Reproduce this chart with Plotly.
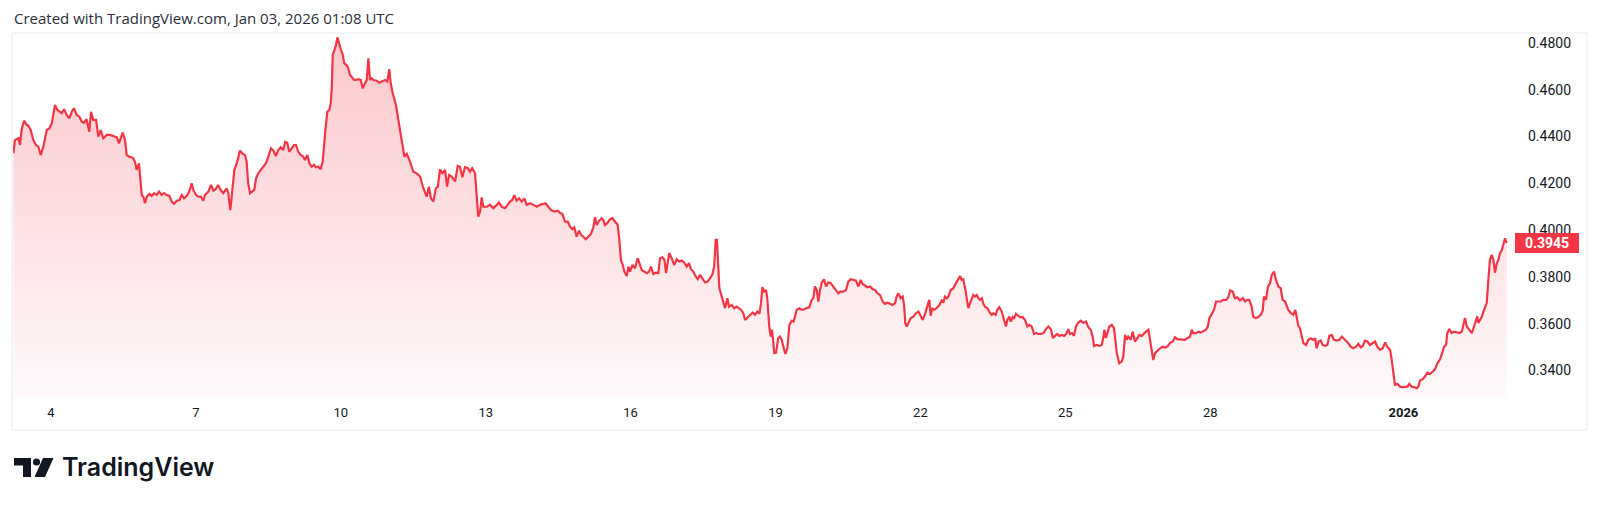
import plotly.graph_objects as go
import pandas as pd

# ---------------- data ----------------
HEADER = "Created with TradingView.com, Jan 03, 2026 01:08 UTC"
BASE_TIME = "2025-12-03 00:00"          # hours below are counted from here (UTC)

hours = [
    5.3, 6.1, 7.8, 8.6, 9.4, 10.6, 11.9, 12.7, 13.9, 15.2,
    16.6, 17.7, 18.9, 20.2, 21.9, 23.2, 24.4, 25.1, 26.0, 27.1,
    28.5, 29.3, 30.5, 31.8, 33.1, 34.3, 35.4, 36.8, 38.1, 39.3,
    40.4, 41.7, 43.0, 43.9, 45.0, 46.4, 47.5, 48.7, 50.0, 51.7,
    53.3, 55.0, 56.7, 57.8, 58.8, 59.6, 60.8, 61.6, 62.9, 64.6,
    65.7, 66.6, 67.7, 68.6, 69.1, 69.9, 70.7, 71.6, 72.9, 74.0,
    75.2, 76.5, 77.7, 79.0, 80.2, 81.5, 82.8, 84.0, 85.1, 86.5,
    87.8, 89.0, 90.1, 91.4, 92.7, 93.9, 94.7, 96.1, 97.2, 98.4,
    99.7, 100.5, 102.2, 103.5, 104.7, 105.8, 107.0, 108.3, 109.6, 111.3,
    112.1, 113.1, 114.3, 115.1, 116.3, 117.9, 119.3, 120.4, 121.2, 122.0,
    122.9, 124.2, 125.0, 125.9, 127.0, 128.2, 129.5, 130.8, 132.0, 133.3,
    134.5, 135.7, 137.0, 138.1, 139.4, 140.4, 141.4, 142.4, 143.6, 144.8,
    145.7, 146.9, 148.1, 149.1, 150.2, 151.4, 152.4, 153.5, 154.7, 155.7,
    156.8, 158.0, 159.0, 159.7, 160.5, 161.3, 162.3, 163.0, 163.5, 164.0,
    164.8, 165.6, 166.3, 167.3, 168.1, 169.0, 169.7, 170.9, 171.7, 172.6,
    173.4, 174.6, 175.6, 176.7, 177.9, 178.9, 180.0, 180.9, 181.7, 182.5,
    183.4, 184.2, 185.8, 187.1, 190.0, 191.1, 192.1, 192.8, 193.8, 195.4,
    196.6, 198.3, 199.6, 200.8, 202.4, 204.0, 205.7, 207.4, 209.0, 210.7,
    211.8, 212.8, 214.0, 215.2, 216.2, 217.3, 218.4, 219.8, 220.8, 221.8,
    223.1, 224.8, 226.1, 227.2, 228.4, 229.7, 231.1, 232.2, 233.3, 234.7,
    235.5, 236.3, 237.2, 238.0, 238.8, 240.5, 242.1, 243.8, 245.5, 246.6,
    248.0, 249.6, 250.9, 252.1, 253.2, 254.2, 255.4, 256.6, 257.9, 259.2,
    260.4, 262.0, 263.7, 265.4, 267.0, 268.6, 269.8, 271.1, 272.5, 274.1,
    275.8, 276.9, 278.1, 279.4, 280.8, 281.9, 283.0, 284.0, 285.2, 286.4,
    287.4, 288.5, 289.7, 291.0, 292.3, 293.5, 294.3, 295.2, 296.3, 297.6,
    298.4, 299.3, 300.6, 301.8, 302.9, 304.3, 305.6, 306.4, 307.2, 308.1,
    308.9, 310.1, 310.9, 311.7, 312.9, 314.2, 315.5, 316.7, 317.5, 318.8,
    320.0, 321.2, 322.1, 323.3, 324.5, 325.8, 326.6, 327.8, 328.8, 329.6,
    330.4, 331.2, 332.4, 333.7, 334.9, 336.1, 337.4, 338.7, 339.9, 341.0,
    342.0, 343.2, 344.4, 345.4, 346.5, 347.6, 349.0, 350.3, 351.5, 352.6,
    353.5, 354.3, 354.9, 355.6, 356.1, 357.3, 358.1, 358.9, 360.1, 360.9,
    362.2, 363.5, 364.7, 365.9, 366.9, 368.0, 368.9, 370.5, 371.7, 372.7,
    373.8, 375.0, 376.0, 376.8, 377.5, 378.3, 379.3, 379.9, 380.9, 381.6,
    382.3, 382.9, 383.4, 384.3, 385.3, 386.2, 387.1, 387.9, 388.9, 389.9,
    390.9, 392.1, 392.9, 393.7, 394.5, 395.8, 397.0, 398.2, 399.5, 400.8,
    402.0, 402.8, 403.6, 404.5, 405.3, 406.1, 407.0, 408.1, 409.1, 410.2,
    411.4, 412.7, 414.1, 415.2, 416.1, 417.7, 419.0, 420.2, 421.4, 422.7,
    424.0, 425.2, 426.3, 427.3, 428.5, 429.6, 431.0, 432.3, 433.5, 434.6,
    435.9, 437.3, 438.4, 439.6, 440.9, 442.2, 443.4, 444.2, 445.0, 446.2,
    447.2, 447.9, 448.5, 449.2, 450.0, 451.2, 452.5, 453.8, 455.0, 456.2,
    457.2, 458.3, 459.4, 460.4, 461.1, 461.9, 462.8, 464.1, 465.4, 466.6,
    467.4, 468.2, 469.1, 469.9, 471.1, 472.4, 473.2, 474.0, 474.8, 475.7,
    476.5, 477.3, 478.2, 479.0, 479.8, 480.7, 481.5, 482.3, 483.1, 484.0,
    484.8, 485.6, 486.5, 487.3, 488.1, 489.3, 490.2, 491.4, 492.2, 493.4,
    494.2, 495.2, 496.4, 497.6, 498.5, 499.2, 500.2, 500.9, 501.9, 502.5,
    503.5, 504.7, 505.5, 506.8, 508.0, 509.1, 510.1, 511.3, 512.5, 513.5,
    514.6, 515.8, 517.1, 518.4, 519.6, 520.8, 521.8, 522.9, 524.0, 525.0,
    526.2, 527.4, 528.4, 529.5, 530.3, 531.3, 532.3, 533.3, 534.5, 535.7,
    537.0, 538.3, 539.4, 540.6, 541.6, 542.3, 543.6, 544.9, 546.1, 546.9,
    547.4, 548.2, 549.1, 549.9, 551.1, 552.2, 553.6, 554.8, 556.0, 556.8,
    557.7, 558.5, 559.3, 560.5, 561.5, 562.6, 563.8, 564.8, 566.0, 566.8,
    568.1, 569.3, 570.1, 570.9, 571.7, 572.6, 573.7, 575.1, 576.4, 577.6,
    578.7, 580.0, 581.4, 582.5, 583.7, 585.0, 586.3, 587.5, 588.6, 590.0,
    590.8, 591.6, 593.0, 594.1, 595.3, 596.6, 597.9, 598.8, 599.6, 600.8,
    601.9, 602.9, 604.0, 605.2, 606.5, 607.9, 609.0, 609.9, 611.2, 612.3,
    613.5, 614.8, 616.2, 617.3, 618.4, 619.4, 620.6, 621.4, 622.6, 623.9,
    625.1, 626.1, 626.7, 627.7, 628.7, 629.7, 630.6, 631.7, 632.7, 633.9,
    635.0, 636.0, 637.2, 638.0, 638.8, 640.0, 641.3, 642.3, 643.0, 643.8,
    644.6, 645.5, 646.3, 647.6, 648.8, 650.0, 651.2, 652.1, 652.9, 653.9,
    654.9, 655.9, 657.1, 658.2, 659.2, 660.4, 661.5, 662.9, 664.2, 665.4,
    666.2, 667.5, 668.6, 669.8, 671.1, 672.5, 673.6, 674.8, 675.8, 676.9,
    678.1, 679.4, 680.8, 681.9, 683.0, 684.4, 685.7, 686.9, 688.0, 689.4,
    690.2, 691.0, 691.8, 693.0, 694.3, 695.7, 696.8, 698.0, 698.9, 700.1,
    701.3, 702.6, 703.4, 704.3, 705.6, 706.7, 707.9, 709.2, 710.6, 711.7,
    712.9, 714.2, 715.5, 716.2, 717.2, 717.8, 718.8, 720.0, 721.2, 722.5,
    723.8, 725.0, 725.8, 726.6, 727.5, 728.6, 730.0, 731.1, 732.1, 732.7,
    733.2, 734.9, 736.1, 737.4, 738.2, 739.0, 739.9, 740.7, 741.5, 742.4,
    743.2, 744.0, 744.9, 745.7, 746.5, 747.3,
]

prices = [
    0.4329, 0.4385, 0.4393, 0.4364, 0.4428, 0.4468, 0.4450, 0.4447, 0.4428, 0.4385,
    0.4364, 0.4357, 0.4321, 0.4357, 0.4428, 0.4435, 0.4457, 0.4485, 0.4535, 0.4514,
    0.4506, 0.4500, 0.4517, 0.4492, 0.4478, 0.4506, 0.4521, 0.4492, 0.4485, 0.4464,
    0.4459, 0.4474, 0.4421, 0.4506, 0.4471, 0.4471, 0.4400, 0.4428, 0.4393, 0.4407,
    0.4407, 0.4403, 0.4397, 0.4371, 0.4400, 0.4417, 0.4385, 0.4321, 0.4314, 0.4310,
    0.4293, 0.4257, 0.4286, 0.4200, 0.4150, 0.4143, 0.4115, 0.4143, 0.4155, 0.4146,
    0.4158, 0.4150, 0.4165, 0.4150, 0.4158, 0.4150, 0.4146, 0.4122, 0.4112, 0.4126,
    0.4129, 0.4150, 0.4136, 0.4146, 0.4165, 0.4200, 0.4172, 0.4150, 0.4143, 0.4143,
    0.4126, 0.4150, 0.4165, 0.4193, 0.4169, 0.4175, 0.4193, 0.4172, 0.4158, 0.4179,
    0.4158, 0.4086, 0.4200, 0.4257, 0.4286, 0.4340, 0.4326, 0.4321, 0.4293, 0.4200,
    0.4158, 0.4165, 0.4172, 0.4222, 0.4243, 0.4257, 0.4271, 0.4286, 0.4314, 0.4350,
    0.4340, 0.4317, 0.4343, 0.4354, 0.4343, 0.4378, 0.4374, 0.4335, 0.4350, 0.4364,
    0.4364, 0.4335, 0.4321, 0.4317, 0.4300, 0.4321, 0.4286, 0.4271, 0.4279, 0.4269,
    0.4271, 0.4260, 0.4293, 0.4371, 0.4442, 0.4506, 0.4514, 0.4542, 0.4606, 0.4749,
    0.4770, 0.4791, 0.4824, 0.4791, 0.4770, 0.4749, 0.4713, 0.4706, 0.4692, 0.4663,
    0.4656, 0.4642, 0.4642, 0.4645, 0.4642, 0.4606, 0.4628, 0.4642, 0.4735, 0.4642,
    0.4649, 0.4642, 0.4639, 0.4630, 0.4642, 0.4635, 0.4688, 0.4628, 0.4585, 0.4535,
    0.4471, 0.4378, 0.4314, 0.4326, 0.4293, 0.4250, 0.4243, 0.4229, 0.4179, 0.4143,
    0.4186, 0.4136, 0.4122, 0.4179, 0.4186, 0.4260, 0.4243, 0.4257, 0.4186, 0.4236,
    0.4229, 0.4208, 0.4274, 0.4271, 0.4226, 0.4269, 0.4265, 0.4250, 0.4265, 0.4243,
    0.4158, 0.4058, 0.4079, 0.4140, 0.4100, 0.4100, 0.4108, 0.4094, 0.4108, 0.4118,
    0.4100, 0.4094, 0.4108, 0.4122, 0.4129, 0.4150, 0.4126, 0.4136, 0.4122, 0.4136,
    0.4108, 0.4115, 0.4108, 0.4100, 0.4108, 0.4112, 0.4115, 0.4100, 0.4086, 0.4079,
    0.4083, 0.4074, 0.4069, 0.4036, 0.4036, 0.4015, 0.4004, 0.4012, 0.3972, 0.3998,
    0.3980, 0.3972, 0.3961, 0.3972, 0.3984, 0.4012, 0.4055, 0.4022, 0.4040, 0.4051,
    0.4044, 0.4022, 0.4032, 0.4047, 0.4051, 0.4036, 0.4022, 0.3958, 0.3873, 0.3851,
    0.3823, 0.3804, 0.3844, 0.3823, 0.3851, 0.3837, 0.3880, 0.3851, 0.3830, 0.3823,
    0.3816, 0.3823, 0.3844, 0.3813, 0.3818, 0.3816, 0.3880, 0.3884, 0.3873, 0.3816,
    0.3866, 0.3902, 0.3880, 0.3851, 0.3876, 0.3866, 0.3870, 0.3861, 0.3844, 0.3859,
    0.3833, 0.3823, 0.3801, 0.3790, 0.3809, 0.3794, 0.3776, 0.3780, 0.3794, 0.3809,
    0.3844, 0.3958, 0.3958, 0.3844, 0.3752, 0.3716, 0.3688, 0.3666, 0.3709, 0.3673,
    0.3680, 0.3666, 0.3673, 0.3666, 0.3659, 0.3645, 0.3616, 0.3630, 0.3638, 0.3648,
    0.3638, 0.3652, 0.3642, 0.3688, 0.3756, 0.3737, 0.3744, 0.3709, 0.3588, 0.3545,
    0.3574, 0.3517, 0.3474, 0.3476, 0.3538, 0.3545, 0.3531, 0.3502, 0.3471, 0.3495,
    0.3595, 0.3613, 0.3609, 0.3630, 0.3659, 0.3666, 0.3659, 0.3662, 0.3666, 0.3671,
    0.3702, 0.3709, 0.3759, 0.3744, 0.3694, 0.3744, 0.3776, 0.3790, 0.3759, 0.3776,
    0.3774, 0.3759, 0.3744, 0.3730, 0.3737, 0.3737, 0.3744, 0.3780, 0.3790, 0.3787,
    0.3784, 0.3759, 0.3787, 0.3770, 0.3762, 0.3756, 0.3759, 0.3747, 0.3744, 0.3730,
    0.3723, 0.3694, 0.3685, 0.3690, 0.3685, 0.3680, 0.3688, 0.3716, 0.3730, 0.3709,
    0.3716, 0.3680, 0.3602, 0.3588, 0.3602, 0.3624, 0.3630, 0.3645, 0.3652, 0.3628,
    0.3616, 0.3642, 0.3680, 0.3702, 0.3634, 0.3667, 0.3659, 0.3667, 0.3680, 0.3699,
    0.3690, 0.3716, 0.3709, 0.3716, 0.3744, 0.3752, 0.3766, 0.3780, 0.3794, 0.3804,
    0.3787, 0.3790, 0.3752, 0.3702, 0.3667, 0.3688, 0.3709, 0.3723, 0.3716, 0.3723,
    0.3709, 0.3702, 0.3709, 0.3685, 0.3673, 0.3666, 0.3652, 0.3638, 0.3644, 0.3638,
    0.3659, 0.3671, 0.3652, 0.3616, 0.3588, 0.3616, 0.3630, 0.3609, 0.3628, 0.3621,
    0.3642, 0.3633, 0.3628, 0.3628, 0.3616, 0.3588, 0.3595, 0.3588, 0.3556, 0.3560,
    0.3556, 0.3556, 0.3560, 0.3577, 0.3588, 0.3577, 0.3539, 0.3548, 0.3556, 0.3548,
    0.3552, 0.3548, 0.3556, 0.3577, 0.3556, 0.3560, 0.3548, 0.3588, 0.3605, 0.3613,
    0.3603, 0.3609, 0.3586, 0.3574, 0.3545, 0.3505, 0.3509, 0.3505, 0.3509, 0.3542,
    0.3574, 0.3539, 0.3561, 0.3588, 0.3595, 0.3581, 0.3474, 0.3431, 0.3438, 0.3459,
    0.3552, 0.3531, 0.3545, 0.3531, 0.3566, 0.3524, 0.3538, 0.3552, 0.3548, 0.3556,
    0.3566, 0.3574, 0.3524, 0.3474, 0.3445, 0.3474, 0.3485, 0.3495, 0.3502, 0.3498,
    0.3502, 0.3517, 0.3524, 0.3542, 0.3534, 0.3534, 0.3534, 0.3531, 0.3538, 0.3545,
    0.3574, 0.3560, 0.3560, 0.3566, 0.3562, 0.3569, 0.3574, 0.3588, 0.3624, 0.3642,
    0.3659, 0.3695, 0.3695, 0.3695, 0.3702, 0.3702, 0.3713, 0.3742, 0.3737, 0.3709,
    0.3713, 0.3699, 0.3709, 0.3695, 0.3702, 0.3702, 0.3673, 0.3630, 0.3624, 0.3628,
    0.3638, 0.3656, 0.3716, 0.3702, 0.3759, 0.3773, 0.3809, 0.3823, 0.3787, 0.3759,
    0.3752, 0.3702, 0.3695, 0.3680, 0.3659, 0.3646, 0.3638, 0.3659, 0.3630, 0.3591,
    0.3581, 0.3552, 0.3517, 0.3509, 0.3531, 0.3538, 0.3531, 0.3538, 0.3495, 0.3524,
    0.3528, 0.3509, 0.3505, 0.3509, 0.3548, 0.3552, 0.3531, 0.3528, 0.3531, 0.3545,
    0.3538, 0.3528, 0.3517, 0.3502, 0.3495, 0.3502, 0.3514, 0.3499, 0.3505, 0.3528,
    0.3524, 0.3509, 0.3517, 0.3524, 0.3502, 0.3488, 0.3495, 0.3520, 0.3502, 0.3488,
    0.3445, 0.3388, 0.3339, 0.3343, 0.3331, 0.3329, 0.3331, 0.3331, 0.3343, 0.3331,
    0.3329, 0.3324, 0.3331, 0.3357, 0.3363, 0.3374, 0.3391, 0.3385, 0.3395, 0.3406,
    0.3431, 0.3448, 0.3481, 0.3502, 0.3509, 0.3560, 0.3577, 0.3560, 0.3566, 0.3562,
    0.3560, 0.3566, 0.3595, 0.3624, 0.3588, 0.3577, 0.3560, 0.3588, 0.3616, 0.3631,
    0.3603, 0.3629, 0.3659, 0.3688, 0.3787, 0.3873, 0.3894, 0.3873, 0.3818, 0.3858,
    0.3873, 0.3902, 0.3915, 0.3944, 0.3965, 0.3945,
]

tick_dates = ["2025-12-04", "2025-12-07", "2025-12-10", "2025-12-13", "2025-12-16",
              "2025-12-19", "2025-12-22", "2025-12-25", "2025-12-28", "2026-01-01"]
tick_labels = ["4", "7", "10", "13", "16", "19", "22", "25", "28", "<b>2026</b>"]
price_ticks = [0.34, 0.36, 0.38, 0.40, 0.42, 0.44, 0.46, 0.48]
last_price = 0.3945
x_window_hours = [5.12, 751.45]
y_window = [0.32867, 0.48385]

# ---------------- styling ----------------
RED = "#F23645"
TEXT = "#131722"
OFF = 8                       # page body margin of the html page
W, H = 1600 - OFF, 505 - OFF  # figure size so that the page is exactly 1600x505
# plot area in page pixels: x 13..1515, y 34..397
ML, MT = 13 - OFF, 34 - OFF
MR = W - (1515 - OFF)
MB = H - (397 - OFF)
PW, PH = W - ML - MR, H - MT - MB


def px(xp):      # page pixel -> paper x
    return (xp - OFF - ML) / PW


def py(yp):      # page pixel -> paper y
    return (H - MB - (yp - OFF)) / PH


base = pd.Timestamp(BASE_TIME)
times = base + pd.to_timedelta(hours, unit="h")
x_range = [base + pd.Timedelta(hours=h) for h in x_window_hours]

fig = go.Figure()
fig.add_trace(go.Scatter(
    x=times, y=prices, mode="lines",
    line=dict(color=RED, width=2.2),
    fill="tozeroy",
    fillgradient=dict(
        type="vertical",
        start=y_window[0], stop=y_window[1],
        colorscale=[[0, "rgba(242,54,69,0.03)"], [1, "rgba(242,54,69,0.28)"]],
    ),
    hoverinfo="skip", showlegend=False,
))

fig.update_layout(
    width=W, height=H,
    margin=dict(l=ML, r=MR, t=MT, b=MB, pad=0),
    paper_bgcolor="white", plot_bgcolor="white",
    font=dict(family="Roboto, 'Noto Sans', sans-serif", color=TEXT, size=13),
    xaxis=dict(
        type="date", range=x_range, showgrid=False, zeroline=False,
        showline=False, ticks="", tickvals=tick_dates, ticktext=tick_labels,
        tickfont=dict(size=13, color=TEXT), ticklabelstandoff=6,
        fixedrange=True,
    ),
    yaxis=dict(
        side="right", range=y_window, showgrid=False, zeroline=False,
        showline=False, ticks="", tickvals=price_ticks, tickformat=".4f",
        tickfont=dict(size=14, color=TEXT), ticklabelstandoff=12,
        fixedrange=True,
    ),
)

# outer frame of the chart
fig.add_shape(type="rect", xref="paper", yref="paper",
              x0=px(12), x1=px(1587), y0=py(430), y1=py(33),
              line=dict(color="#E6E8EE", width=1), layer="below")

# header
fig.add_annotation(xref="paper", yref="paper", x=px(12), y=py(17.5),
                   xanchor="left", yanchor="middle", showarrow=False,
                   text=HEADER,
                   font=dict(family="'Open Sans', Roboto, sans-serif", size=15,
                             color="#2A2E39"))

# last price tag
fig.add_annotation(xref="paper", yref="y", x=1.0, y=last_price,
                   xanchor="left", yanchor="middle", showarrow=False,
                   text=f"<b>{last_price:.4f}</b>", bgcolor=RED,
                   font=dict(size=14, color="white"),
                   width=60, height=16, borderpad=2, borderwidth=0)


# TradingView logo (decoration)
def path(points):
    return "M " + " L ".join(f"{px(a):.6f},{py(b):.6f}" for a, b in points) + " Z"


fig.add_shape(type="path", xref="paper", yref="paper",
              path=path([(14, 458), (31, 458), (31, 477), (23, 477), (23, 465.5), (14, 465.5)]),
              fillcolor=TEXT, line=dict(width=0))
fig.add_shape(type="circle", xref="paper", yref="paper",
              x0=px(32.9), x1=px(40.1), y0=py(465.6), y1=py(458.4),
              fillcolor=TEXT, line=dict(width=0))
fig.add_shape(type="path", xref="paper", yref="paper",
              path=path([(43, 458), (53.5, 458), (45, 477), (34.5, 477)]),
              fillcolor=TEXT, line=dict(width=0))
fig.add_annotation(xref="paper", yref="paper", x=px(60), y=py(467),
                   xanchor="left", yanchor="middle", showarrow=False,
                   text="TradingView",
                   font=dict(family="Inter, Roboto, sans-serif", size=25,
                             color=TEXT, weight=600))

fig.write_html("out.html")
